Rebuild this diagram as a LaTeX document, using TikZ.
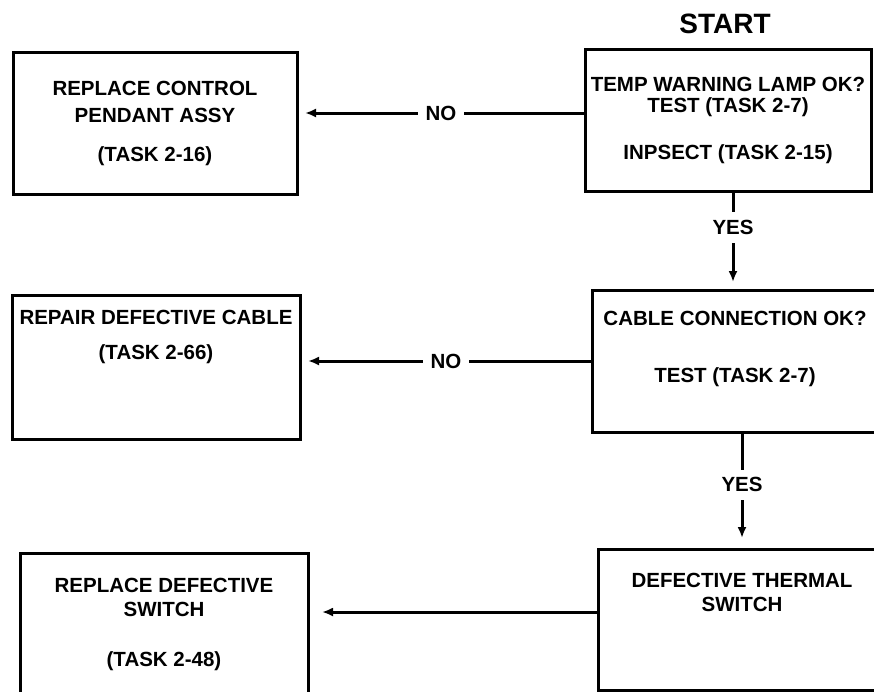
\documentclass[tikz,border=0pt]{standalone}
\usepackage{fontspec}
\setmainfont{Liberation Sans}
\usetikzlibrary{arrows.meta,positioning,calc}

\begin{document}
\begin{tikzpicture}[
  x=1pt, y=-1pt,
  >={Latex[length=11pt,width=9pt]},
  every node/.style={font=\bfseries\fontsize{20.5}{24}\selectfont},
  box/.style={draw, line width=3pt, minimum width=286pt, minimum height=142pt, align=center, inner sep=0pt},
  flow/.style={->, line width=3pt},
  answer/.style={fill=white, inner sep=8pt}
]
\useasboundingbox (0,0) rectangle (874,691);
\clip (0,0) rectangle (874,691);

% right column: checks
\node[font=\bfseries\fontsize{28}{30}\selectfont] (start) at (725,24) {START};
\node[box] (lamp) at (728,120.5) {TEMP WARNING LAMP OK?\\[-3pt]TEST (TASK 2-7)\\[23pt]INPSECT (TASK 2-15)};
\node[box, text depth=29pt] (cable) at (735,361) {CABLE CONNECTION OK?\\[33pt]TEST (TASK 2-7)};
\node[box, minimum width=288pt, minimum height=141pt, text depth=54pt] (thermal) at (742,619.5) {DEFECTIVE THERMAL\\SWITCH};

% left column: repairs
\node[box, minimum width=284pt] (pendant) at (155,123) {REPLACE CONTROL\\[3pt]PENDANT ASSY\\[15pt](TASK 2-16)};
\node[box, minimum width=288pt, minimum height=144pt, text depth=64pt] (repair) at (156,367) {REPAIR DEFECTIVE CABLE\\[11pt](TASK 2-66)};
\node[box, minimum width=288pt] (switch) at (164,624) {REPLACE DEFECTIVE\\SWITCH\\[26pt](TASK 2-48)};

% connectors
\coordinate (noA) at ([yshift=7.5pt]lamp.west);
\draw[flow, shorten >=6.5pt] (noA) -- node[answer]{NO} (noA -| pendant.east);
\draw[flow, shorten >=6.5pt] (cable.west) -- node[answer]{NO} (cable.west -| repair.east);
\coordinate (toSwitch) at ([yshift=7.5pt]thermal.west);
\draw[flow, shorten >=12.5pt] (toSwitch) -- (toSwitch -| switch.east);

\coordinate (yesA) at ([xshift=5pt]lamp.south);
\draw[flow, shorten >=6.5pt] (yesA) -- node[answer, pos=0.36]{YES} (yesA |- cable.north);
\draw[flow, shorten >=9.5pt] (cable.south -| thermal.north) -- node[answer, pos=0.45]{YES} (thermal.north);
\end{tikzpicture}
\end{document}
